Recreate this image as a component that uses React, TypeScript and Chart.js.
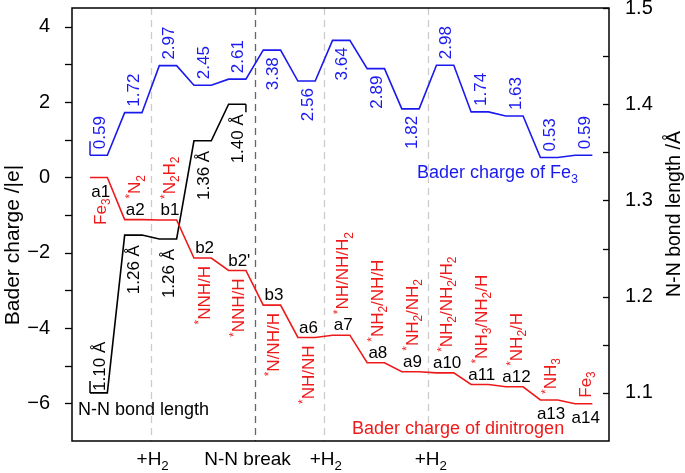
import React, { useEffect, useRef } from 'react';
import { Chart, registerables } from 'chart.js';

Chart.register(...registerables);

const FONT = '"Liberation Sans", Arial, Helvetica, sans-serif';

// ---------------- data ----------------
const stateLabels = ['a1', 'a2', 'b1', 'b2', "b2'", 'b3', 'a6', 'a7', 'a8', 'a9', 'a10', 'a11', 'a12', 'a13', 'a14'];
const speciesLabels = ['Fe3', '*N2', '*N2H2', '*NNH/H', '*NNH/H', '*N/NH/H', '*NH/NH', '*NH/NH/H2', '*NH2/NH/H', '*NH2/NH2', '*NH2/NH2/H2', '*NH3/NH2/H', '*NH2/H', '*NH3', 'Fe3'];
const fe3Charge = [0.59, 1.72, 2.97, 2.45, 2.61, 3.38, 2.56, 3.64, 2.89, 1.82, 2.98, 1.74, 1.63, 0.53, 0.59];
const n2Charge = [0, -1.12, -1.13, -2.14, -2.47, -3.39, -4.25, -4.19, -4.92, -5.16, -5.19, -5.5, -5.56, -5.91, -6.01];
const bondLength = [1.1, 1.264, 1.26, 1.362, 1.4];
const bondLabels = ['1.10 Å', '1.26 Å', '1.26 Å', '1.36 Å', '1.40 Å'];
const eventAfterState = [1, 4, 6, 9];
const eventLabels = ['+H2', 'N-N break', '+H2', '+H2'];
const chargeTicks = [-6, -5, -4, -3, -2, -1, 0, 1, 2, 3, 4];
const bondTicks = [1.1, 1.15, 1.2, 1.25, 1.3, 1.35, 1.4, 1.45, 1.5];
const seriesNames = ['Bader charge of Fe3', 'Bader charge of dinitrogen', 'N-N bond length'];
const axisTitles = ['Bader charge /|e|', 'N-N bond length /Å'];

// ---------------- styles / placement ----------------
const BLUE = '#1a1aee';
const RED = '#ee1a1a';
const BLACK = '#000000';
const LEVEL_W = 0.5;
const EVENT_OFFSET = 0.75;
const ANN = 17;
const FE_SIDE = ['up', 'up', 'up', 'up', 'up', 'down', 'down', 'down', 'down', 'down', 'up', 'up', 'up', 'up', 'up'];
const STATE_BELOW = [true, false, false, false, false, false, false, false, false, false, false, false, false, true, true];
const SPECIES_PLACE = ['below2', 'above2', 'above2', 'below', 'below', 'below', 'below', 'above2', 'above2', 'above2', 'above2', 'above2', 'above2', 'above', 'above'];
const EVENT_DARK = [false, true, false, false];
const EVENT_DX = [2, -7, 2, 3];

type Seg = { t: string; k: 'n' | 'sub' | 'sup' };

function parse(s: string, chem: boolean): Seg[] {
  const out: Seg[] = [];
  for (let i = 0; i < s.length; i++) {
    const c = s[i];
    let k: Seg['k'] = 'n';
    if (chem) {
      if (c === '*') k = 'sup';
      else if (/[0-9]/.test(c) && i > 0 && /[A-Za-z]/.test(s[i - 1])) k = 'sub';
    }
    const last = out[out.length - 1];
    if (last && last.k === k) last.t += c;
    else out.push({ t: c, k });
  }
  return out;
}

function segFont(size: number, k: Seg['k']) {
  const s = k === 'n' ? size : size * 0.7;
  return `${s}px ${FONT}`;
}

function measure(ctx: CanvasRenderingContext2D, segs: Seg[], size: number) {
  let w = 0;
  for (const sg of segs) {
    ctx.font = segFont(size, sg.k);
    w += ctx.measureText(sg.t).width;
  }
  return w;
}

function drawSegs(ctx: CanvasRenderingContext2D, segs: Seg[], size: number, x0: number, base: number) {
  let x = x0;
  ctx.textAlign = 'left';
  ctx.textBaseline = 'alphabetic';
  for (const sg of segs) {
    ctx.font = segFont(size, sg.k);
    const dy = sg.k === 'sub' ? size * 0.25 : sg.k === 'sup' ? -size * 0.38 : 0;
    ctx.fillText(sg.t, x, base + dy);
    x += ctx.measureText(sg.t).width;
  }
}

function drawVert(ctx: CanvasRenderingContext2D, text: string, cx: number, yEdge: number, place: string, size: number, color: string, chem: boolean) {
  const segs = parse(text, chem);
  const w = measure(ctx, segs, size);
  const startY = place === 'above' ? yEdge : place === 'below' ? yEdge + w : yEdge + w / 2;
  ctx.save();
  ctx.fillStyle = color;
  ctx.translate(cx, startY);
  ctx.rotate(-Math.PI / 2);
  drawSegs(ctx, segs, size, 0, 0.36 * size);
  ctx.restore();
}

function drawHoriz(ctx: CanvasRenderingContext2D, text: string, x: number, cy: number, size: number, color: string, chem: boolean, align: 'left' | 'center') {
  const segs = parse(text, chem);
  const w = measure(ctx, segs, size);
  const x0 = align === 'center' ? x - w / 2 : x;
  ctx.save();
  ctx.fillStyle = color;
  drawSegs(ctx, segs, size, x0, cy + 0.36 * size);
  ctx.restore();
}

const steps = (vals: number[]) => vals.flatMap((v, i) => [{ x: i, y: v }, { x: i + LEVEL_W, y: v }]);

const annotate = {
  id: 'annotate',
  beforeDatasetsDraw(chart: any) {
    const { ctx, chartArea: a, scales } = chart;
    ctx.save();
    eventAfterState.forEach((s, i) => {
      const px = Math.round(scales.x.getPixelForValue(s + EVENT_OFFSET)) + 0.5;
      ctx.strokeStyle = EVENT_DARK[i] ? '#666666' : '#cccccc';
      ctx.lineWidth = 1.3;
      ctx.setLineDash([7, 5]);
      ctx.beginPath();
      ctx.moveTo(px, a.top);
      ctx.lineTo(px, a.bottom);
      ctx.stroke();
    });
    ctx.restore();
  },
  afterDatasetsDraw(chart: any) {
    const { ctx, chartArea: a, scales } = chart;
    const xs = (v: number) => scales.x.getPixelForValue(v);
    const yl = (v: number) => scales.y.getPixelForValue(v);
    const yr = (v: number) => scales.y2.getPixelForValue(v);
    const cx = (i: number) => xs(i + LEVEL_W / 2);

    ctx.save();
    ctx.strokeStyle = BLACK;
    ctx.lineWidth = 1.5;
    ctx.setLineDash([]);
    ctx.strokeRect(a.left, a.top, a.right - a.left, a.bottom - a.top);
    ctx.lineWidth = 1.3;
    chargeTicks.forEach((v) => {
      const y = Math.round(yl(v)) + 0.5;
      ctx.beginPath();
      ctx.moveTo(a.left - 7, y);
      ctx.lineTo(a.left, y);
      ctx.stroke();
    });
    bondTicks.forEach((v) => {
      const y = Math.round(yr(v)) + 0.5;
      ctx.beginPath();
      ctx.moveTo(a.right - 6, y);
      ctx.lineTo(a.right, y);
      ctx.stroke();
    });

    ctx.lineWidth = 1.5;
    ctx.strokeStyle = BLUE;
    ctx.beginPath();
    ctx.moveTo(xs(0), yl(fe3Charge[0]));
    ctx.lineTo(xs(0), yl(fe3Charge[0]) - 14);
    ctx.stroke();
    ctx.strokeStyle = BLACK;
    ctx.beginPath();
    ctx.moveTo(xs(0), yr(bondLength[0]));
    ctx.lineTo(xs(0), yr(bondLength[0]) - 12);
    ctx.stroke();
    const lb = bondLength.length - 1;
    ctx.beginPath();
    ctx.moveTo(xs(lb + LEVEL_W), yr(bondLength[lb]));
    ctx.lineTo(xs(lb + LEVEL_W), yr(bondLength[lb]) + 8);
    ctx.stroke();

    fe3Charge.forEach((v, i) => {
      const y = yl(v);
      const up = FE_SIDE[i] === 'up';
      drawVert(ctx, v.toFixed(2), cx(i), up ? y - 6 : y + 7, up ? 'above' : 'below', ANN, BLUE, false);
    });

    n2Charge.forEach((v, i) => {
      const y = yl(v);
      drawHoriz(ctx, stateLabels[i], cx(i) + 2, STATE_BELOW[i] ? y + 13 : y - 11, ANN, BLACK, false, 'center');
      const p = SPECIES_PLACE[i];
      const sx = cx(i) + 1;
      if (p === 'below2') drawVert(ctx, speciesLabels[i], sx, y + 21, 'below', ANN, RED, true);
      else if (p === 'above2') drawVert(ctx, speciesLabels[i], sx, y - 21, 'above', ANN, RED, true);
      else if (p === 'below') drawVert(ctx, speciesLabels[i], sx, y + 8, 'below', ANN, RED, true);
      else drawVert(ctx, speciesLabels[i], sx, y - 6, 'above', ANN, RED, true);
    });

    bondLength.forEach((v, i) => {
      const y = yr(v);
      if (i === 0) drawVert(ctx, bondLabels[i], cx(i), y - 2, 'above', ANN, BLACK, false);
      else drawVert(ctx, bondLabels[i], cx(i), y + 10, 'below', ANN, BLACK, false);
    });

    drawHoriz(ctx, seriesNames[0], 417, 172, 18, BLUE, true, 'left');
    drawHoriz(ctx, seriesNames[1], 352, 428, 18, RED, true, 'left');
    drawHoriz(ctx, seriesNames[2], 78, 409, 18, BLACK, true, 'left');

    eventAfterState.forEach((s, i) => {
      drawHoriz(ctx, eventLabels[i], xs(s + EVENT_OFFSET) + EVENT_DX[i], 458, 19, BLACK, true, 'center');
    });

    drawVert(ctx, axisTitles[0], 11, 245, 'center', 21, BLACK, false);
    drawVert(ctx, axisTitles[1], 673, 214, 'center', 19.5, BLACK, false);
    ctx.restore();
  },
};

export default function App() {
  const ref = useRef<HTMLCanvasElement | null>(null);
  useEffect(() => {
    if (!ref.current) return;
    const chart = new Chart(ref.current, {
      type: 'line',
      data: {
        datasets: [
          { label: seriesNames[0], data: steps(fe3Charge), borderColor: BLUE, borderWidth: 1.6, pointRadius: 0, yAxisID: 'y', tension: 0 },
          { label: seriesNames[1], data: steps(n2Charge), borderColor: RED, borderWidth: 1.6, pointRadius: 0, yAxisID: 'y', tension: 0 },
          { label: seriesNames[2], data: steps(bondLength), borderColor: BLACK, borderWidth: 1.6, pointRadius: 0, yAxisID: 'y2', tension: 0 },
        ],
      },
      options: {
        animation: false,
        responsive: false,
        devicePixelRatio: 1,
        layout: { padding: { left: 0, right: 0, top: 8, bottom: 32 } },
        plugins: { legend: { display: false }, tooltip: { enabled: false } },
        scales: {
          x: { type: 'linear', min: -0.52, max: 14.98, display: false },
          y: {
            position: 'left',
            min: -7,
            max: 4.5,
            grid: { display: false },
            border: { display: false },
            afterBuildTicks: (s: any) => { s.ticks = chargeTicks.map((v) => ({ value: v })); },
            afterFit: (s: any) => { s.width = 72; s.paddingTop = 0; s.paddingBottom = 0; },
            ticks: {
              color: BLACK,
              padding: 14,
              font: { family: FONT, size: 20 },
              callback: (v: any) => (v % 2 === 0 ? (v < 0 ? '\u2212' + Math.abs(v) : String(v)) : ''),
            },
          },
          y2: {
            position: 'right',
            min: 1.05,
            max: 1.5,
            grid: { display: false },
            border: { display: false },
            afterBuildTicks: (s: any) => { s.ticks = bondTicks.map((v) => ({ value: v })); },
            afterFit: (s: any) => { s.width = 76; s.paddingTop = 0; s.paddingBottom = 0; },
            ticks: {
              color: BLACK,
              padding: 8,
              font: { family: FONT, size: 20 },
              callback: (v: any) => (Math.abs(v * 10 - Math.round(v * 10)) < 1e-6 ? Number(v).toFixed(1) : ''),
            },
          },
        },
      },
      plugins: [annotate],
    } as any);
    return () => chart.destroy();
  }, []);
  return (
    <div style={{ position: 'absolute', left: 0, top: 0, width: 685, height: 473, background: '#fff' }}>
      <canvas ref={ref} width={685} height={473} />
    </div>
  );
}
